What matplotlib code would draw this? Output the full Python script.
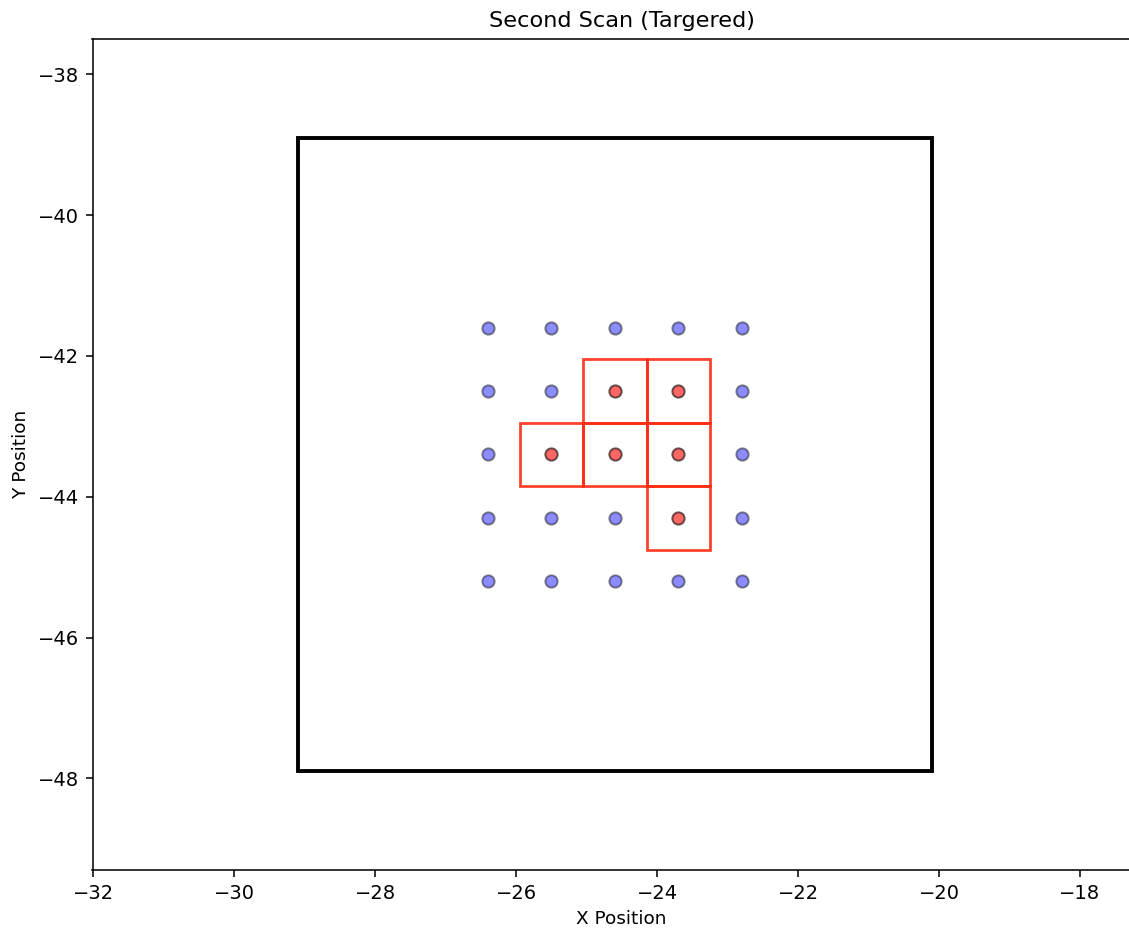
import matplotlib
matplotlib.use("Agg")
import matplotlib.pyplot as plt
from matplotlib.patches import Rectangle

# scan grid (5x5), step 0.9
grid_x = [-26.4, -25.5, -24.6, -23.7, -22.8]
grid_y = [-41.6, -42.5, -43.4, -44.3, -45.2]

# targeted points (hits)
hit_x = [-24.6, -23.7, -25.5, -24.6, -23.7, -23.7]
hit_y = [-42.5, -42.5, -43.4, -43.4, -43.4, -44.3]

cell_size = 0.9

# outer scan boundary
region_center = (-24.6, -43.4)
region_size = 9.0

xs = [x for y in grid_y for x in grid_x]
ys = [y for y in grid_y for x in grid_x]
hits = set(zip(hit_x, hit_y))
miss_x = [x for x, y in zip(xs, ys) if (x, y) not in hits]
miss_y = [y for x, y in zip(xs, ys) if (x, y) not in hits]

fig = plt.figure(figsize=(1129 / 140, 930 / 140), dpi=140)
ax = fig.add_axes([92.5 / 1129, 60 / 930, 1058 / 1129, 831 / 930])

ax.add_patch(Rectangle((region_center[0] - region_size / 2, region_center[1] - region_size / 2),
                       region_size, region_size, fill=False, edgecolor="black", linewidth=2))

for x, y in zip(hit_x, hit_y):
    ax.add_patch(Rectangle((x - cell_size / 2, y - cell_size / 2), cell_size, cell_size,
                           fill=False, edgecolor="#ff2a10", linewidth=1.4, alpha=0.9))

ax.scatter(miss_x, miss_y, s=40, color="blue", alpha=0.45, edgecolors="black", zorder=3)
ax.scatter(hit_x, hit_y, s=40, color="red", alpha=0.6, edgecolors="black", zorder=3)

ax.set_xlim(-32.01, -17.0)
ax.set_ylim(-49.3, -37.5)
ax.set_xlabel("X Position", fontsize=9.5)
ax.set_ylabel("Y Position", fontsize=9.5)
ax.set_title("Second Scan (Targered)", fontsize=11.5)

fig.savefig("out.png", dpi=140)
